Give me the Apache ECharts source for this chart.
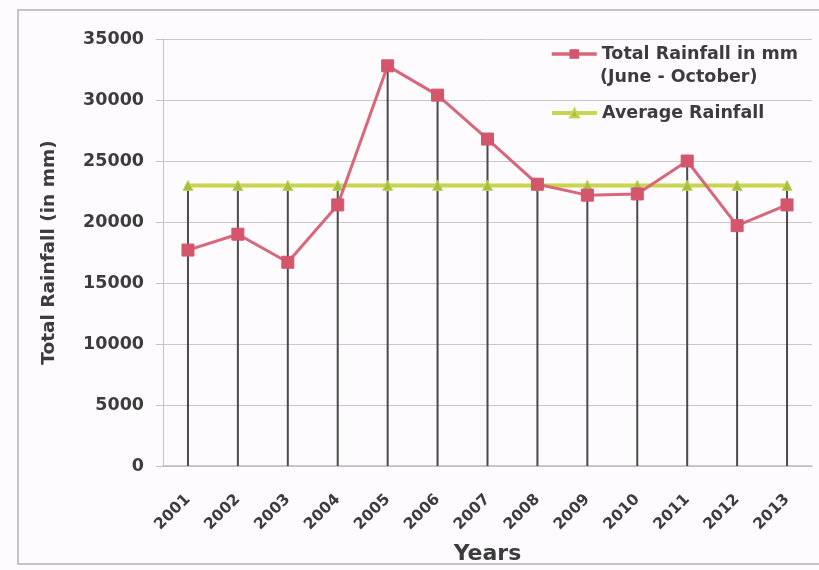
<!DOCTYPE html>
<html>
<head>
<meta charset="utf-8">
<script src="https://cdn.jsdelivr.net/npm/echarts@6/dist/echarts.min.js"></script>
<style>
  html, body { margin: 0; padding: 0; background: #fdfbfd; }
  #chart { width: 819px; height: 570px; }
</style>
</head>
<body>
<div id="chart"></div>
<script>
// Monsoon rainfall totals, 2001-2013
const years = ['2001', '2002', '2003', '2004', '2005', '2006', '2007', '2008', '2009', '2010', '2011', '2012', '2013'];
const totalRainfall = [17700, 19000, 16700, 21400, 32800, 30400, 26800, 23100, 22200, 22300, 25000, 19700, 21400];
const averageRainfall = [23000, 23000, 23000, 23000, 23000, 23000, 23000, 23000, 23000, 23000, 23000, 23000, 23000];
const yTicks = { min: 0, max: 35000, interval: 5000 };

// Drop lines run from the higher of the two series down to the axis
const dropLines = totalRainfall.map((v, i) => Math.max(v, averageRainfall[i]));

const FONT = 'DejaVu Sans';
const TEXT = '#3c3c3c';
const RED = '#d9667a';
const GREEN = '#c9d44f';

const chart = echarts.init(document.getElementById('chart'), null, { renderer: 'canvas' });

const legendText = { fontFamily: FONT, fontWeight: 'bold', fontSize: 17.5, color: TEXT };

chart.setOption({
  backgroundColor: '#fdfbfd',
  animation: false,
  grid: { left: 163, right: 7, top: 39, bottom: 101 },
  legend: [
    {
      data: [{ name: 'Total Rainfall in mm', lineStyle: { color: RED, width: 3.5 } }],
      left: 550, top: 45,
      orient: 'vertical',
      itemWidth: 45, itemHeight: 12, itemGap: 5,
      padding: 0,
      textStyle: legendText
    },
    {
      data: [{ name: 'Average Rainfall', lineStyle: { color: GREEN, width: 4 } }],
      left: 550, top: 104,
      orient: 'vertical',
      itemWidth: 45, itemHeight: 11, itemGap: 5,
      padding: 0,
      textStyle: legendText
    }
  ],
  xAxis: {
    type: 'category',
    data: years,
    boundaryGap: true,
    name: 'Years',
    nameLocation: 'middle',
    nameGap: 77,
    nameTextStyle: { fontFamily: FONT, fontWeight: 'bold', fontSize: 22, color: TEXT },
    axisLine: { show: true, lineStyle: { color: '#bdbdbd', width: 1.5 } },
    axisTick: { show: false },
    axisLabel: {
      rotate: 45, margin: 31, interval: 0,
      fontFamily: FONT, fontWeight: 'bold', fontSize: 15.5, color: TEXT
    },
    splitLine: { show: false }
  },
  yAxis: {
    type: 'value',
    min: yTicks.min, max: yTicks.max, interval: yTicks.interval,
    name: 'Total Rainfall (in mm)',
    nameLocation: 'middle',
    nameGap: 104,
    nameRotate: 90,
    nameTextStyle: { fontFamily: FONT, fontWeight: 'bold', fontSize: 18.5, color: TEXT },
    axisLine: { show: true, lineStyle: { color: '#c4c4c4', width: 1 } },
    axisTick: { show: true, length: 7, lineStyle: { color: '#c4c4c4' } },
    axisLabel: {
      margin: 19, fontFamily: FONT, fontWeight: 'bold', fontSize: 17.5, color: TEXT,
      formatter: (v) => String(v)
    },
    splitLine: { show: true, lineStyle: { color: '#c8c8c8', width: 1 } }
  },
  series: [
    {
      name: 'drop',
      type: 'bar',
      data: dropLines,
      barWidth: 2,
      itemStyle: { color: '#4a4a4a' },
      silent: true,
      z: 1
    },
    {
      name: 'Average Rainfall',
      type: 'line',
      data: averageRainfall,
      symbol: 'triangle',
      symbolSize: 10,
      lineStyle: { color: GREEN, width: 4 },
      itemStyle: { color: '#a3bf4a', borderColor: GREEN, borderWidth: 1 },
      z: 3
    },
    {
      name: 'Total Rainfall in mm',
      type: 'line',
      data: totalRainfall,
      symbol: 'rect',
      symbolSize: 12,
      lineStyle: { color: RED, width: 3 },
      itemStyle: { color: '#d4566c', borderColor: '#d4566c' },
      z: 4
    }
  ],
  graphic: [
    {
      type: 'rect',
      shape: { x: 18, y: 10, width: 820, height: 554 },
      style: { fill: 'none', stroke: '#b4b4b4', lineWidth: 1.5 },
      silent: true, z: 0
    },
    {
      type: 'text',
      left: 600, top: 68,
      style: { text: '(June - October)', fontFamily: FONT, fontWeight: 'bold', fontSize: 17.5, fill: TEXT },
      z: 10
    }
  ]
});
</script>
</body>
</html>
